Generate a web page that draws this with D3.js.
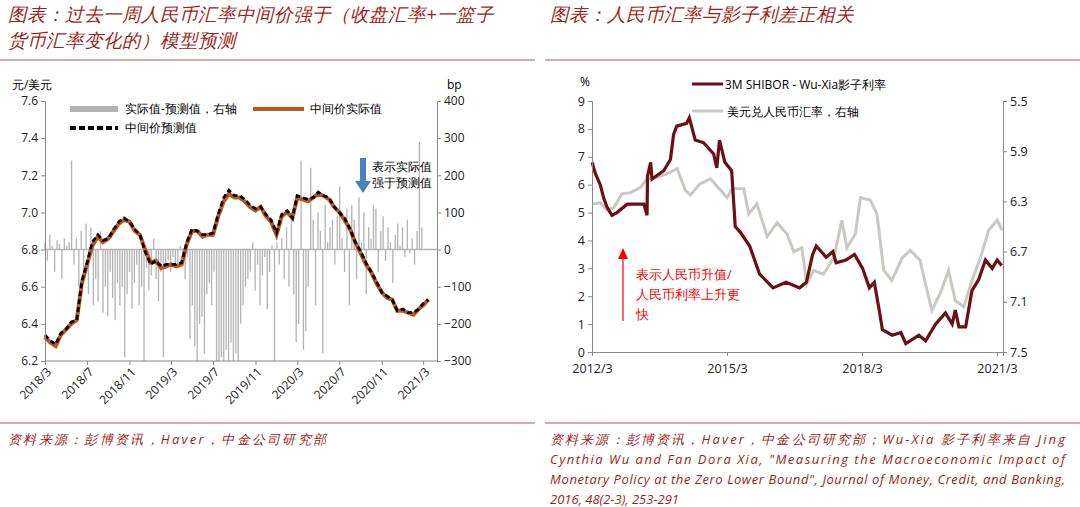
<!DOCTYPE html>
<html><head><meta charset="utf-8">
<script src="https://cdn.jsdelivr.net/npm/d3@7"></script>
<style>body{margin:0;background:#fff}svg{display:block}text{font-family:"Open Sans","Liberation Sans",sans-serif}</style>
</head><body><svg id="c" width="1080" height="507"></svg>
<script>
// ---- Left chart data ----
const leftTicks = ["2018/3","2018/7","2018/11","2019/3","2019/7","2019/11","2020/3","2020/7","2020/11","2021/3"];
const midStart = "2018-03-01"; // semi-monthly observations
const midActual = [6.33,6.30,6.28,6.34,6.37,6.40,6.42,6.62,6.72,6.82,6.87,6.84,6.86,6.90,6.94,6.96,6.95,6.90,6.88,6.80,6.73,6.74,6.70,6.71,6.72,6.71,6.72,6.83,6.90,6.90,6.87,6.88,6.88,6.98,7.06,7.10,7.08,7.08,7.06,7.03,7.01,7.03,6.98,6.95,6.88,6.98,7.00,6.97,7.08,7.07,7.06,7.08,7.10,7.09,7.07,7.03,7.00,6.96,6.91,6.84,6.78,6.72,6.68,6.62,6.57,6.54,6.53,6.47,6.47,6.46,6.45,6.48,6.50,6.53];
const midPred = [6.34,6.31,6.29,6.35,6.37,6.41,6.42,6.63,6.73,6.84,6.88,6.85,6.86,6.91,6.95,6.97,6.95,6.91,6.88,6.79,6.72,6.74,6.71,6.72,6.72,6.72,6.73,6.84,6.91,6.90,6.88,6.88,6.89,6.99,7.08,7.12,7.09,7.09,7.07,7.04,7.02,7.03,6.99,6.96,6.89,6.99,7.01,6.97,7.09,7.08,7.07,7.08,7.11,7.09,7.08,7.03,7.00,6.97,6.91,6.84,6.79,6.73,6.68,6.63,6.57,6.55,6.53,6.47,6.48,6.46,6.46,6.48,6.51,6.53];
const barStart = "2018-03-01"; // weekly observations, bp
const diffBp = [20,-30,40,10,-60,25,15,-80,30,10,20,240,-40,30,-100,50,-60,
70,-120,60,-150,-80,-140,50,-170,-100,-180,-60,-130,-190,-90,-150,-100,-290,
-120,-60,-160,-90,-40,-150,-100,-300,-50,-110,-70,30,-80,-140,-60,-290,-40,
-30,-60,-20,-50,-40,10,-30,-80,-20,-240,-150,-260,-300,-200,-180,-280,-120,
-90,-150,-60,-300,-300,-290,-300,-270,-300,-250,-300,-280,-300,-200,-150,-100,-80,
-60,20,-110,-40,-150,-70,-20,-160,-60,10,-300,20,-40,30,-80,60,-100,
100,-120,-250,-200,240,-270,-220,-100,220,80,-150,100,50,-280,120,20,60,
80,-40,90,170,30,-60,110,-150,120,80,-80,140,20,100,-120,60,30,
120,110,-60,50,90,-30,60,20,-90,40,70,10,60,-20,80,-10,30,
-40,50,290,60];
const leftY = [6.2,6.4,6.6,6.8,7.0,7.2,7.4,7.6];
const leftY2 = [-300,-200,-100,0,100,200,300,400];

// ---- Right chart data ----
const rightTicks = ["2012/3","2015/3","2018/3","2021/3"];
const spreadYear = [2012.17,2012.24,2012.35,2012.43,2012.5,2012.61,2012.72,2012.95,2013.32,2013.39,2013.4,2013.47,2013.5,2013.76,2013.91,2013.98,2014.05,2014.27,2014.33,2014.46,2014.65,2014.87,2014.94,2015.0,2015.12,2015.27,2015.35,2015.46,2015.67,2015.89,2016.19,2016.48,2016.78,2016.93,2017.07,2017.15,2017.37,2017.52,2017.59,2017.81,2018.0,2018.18,2018.33,2018.44,2018.55,2018.62,2018.84,2019.03,2019.14,2019.43,2019.58,2019.8,2020.02,2020.17,2020.24,2020.32,2020.47,2020.61,2020.76,2020.91,2021.06,2021.17,2021.27];
const spreadVal = [6.8,6.4,6.0,5.5,5.2,4.9,5.0,5.3,5.3,4.9,6.3,6.8,6.2,6.5,6.9,7.8,8.1,8.2,8.4,7.6,7.5,7.1,6.6,7.6,6.8,6.5,4.5,4.3,3.8,2.8,2.3,2.5,2.3,2.5,3.5,3.8,3.4,3.6,3.2,3.3,3.5,3.0,2.3,2.5,1.5,0.8,0.6,0.7,0.3,0.6,0.4,1.0,1.4,1.0,1.5,0.9,0.9,2.2,2.6,3.3,3.0,3.3,3.1];
const fxYear = [2012.17,2012.35,2012.5,2012.65,2012.83,2013.02,2013.24,2013.39,2013.61,2013.83,2014.06,2014.24,2014.35,2014.57,2014.8,2015.02,2015.17,2015.28,2015.54,2015.65,2015.83,2016.06,2016.28,2016.5,2016.65,2016.83,2016.94,2017.09,2017.31,2017.54,2017.72,2017.83,2018.02,2018.13,2018.35,2018.5,2018.65,2018.83,2019.06,2019.24,2019.46,2019.54,2019.72,2019.91,2020.09,2020.24,2020.43,2020.61,2020.8,2020.98,2021.17,2021.28];
const fxVal = [6.32,6.31,6.37,6.35,6.24,6.23,6.19,6.12,6.11,6.08,6.04,6.21,6.25,6.16,6.12,6.21,6.27,6.20,6.20,6.40,6.32,6.58,6.47,6.56,6.70,6.67,6.96,6.85,6.88,6.75,6.45,6.67,6.56,6.27,6.29,6.40,6.85,6.93,6.75,6.69,6.77,6.90,7.17,7.03,6.85,7.09,7.14,6.93,6.75,6.53,6.45,6.53];
const rightY = [0,1,2,3,4,5,6,7,8,9];
const rightY2 = [5.5,5.9,6.3,6.7,7.1,7.5];

const svg = d3.select("#c");
const red = "#a01e18";
const titleFont = '"Noto Sans CJK SC",sans-serif';
const tt = [[8,21,"图表：过去一周人民币汇率中间价强于（收盘汇率+一篮子"],[8,47,"货币汇率变化的）模型预测"],[550,21,"图表：人民币汇率与影子利差正相关"]];
tt.forEach(t=>svg.append("text").attr("x",t[0]).attr("y",t[1]).text(t[2]).attr("fill",red).attr("font-size",18.5).attr("font-weight",500).attr("font-style","italic").attr("font-family",titleFont));
[[0,535],[545,1080]].forEach(s=>{
  svg.append("line").attr("x1",s[0]).attr("x2",s[1]).attr("y1",60).attr("y2",60).attr("stroke","#b85450").attr("stroke-width",1.2);
  svg.append("line").attr("x1",s[0]).attr("x2",s[1]).attr("y1",423).attr("y2",423).attr("stroke","#b85450").attr("stroke-width",1.2);
});
const srcL = ["资料来源：彭博资讯，Haver，中金公司研究部"];
const srcR = ["资料来源：彭博资讯，Haver，中金公司研究部；Wu-Xia 影子利率来自 Jing","Cynthia Wu and Fan Dora Xia, \"Measuring the Macroeconomic Impact of","Monetary Policy at the Zero Lower Bound\", Journal of Money, Credit, and Banking,","2016, 48(2-3), 253-291"];
srcL.forEach((s,i)=>svg.append("text").attr("x",8).attr("y",444+i*20).text(s).attr("fill",red).attr("font-size",13).attr("font-style","italic").attr("font-family",titleFont).attr("textLength",318).attr("lengthAdjust","spacing"));
srcR.forEach((s,i)=>{const t=svg.append("text").attr("x",550).attr("y",444+i*20).text(s).attr("fill",red).attr("font-size",13).attr("font-style","italic").attr("font-family",titleFont);
  if(i<3) t.attr("textLength",515).attr("lengthAdjust","spacing");});

// ---- Left chart ----
const tp = d3.timeParse("%Y-%m-%d");
const lx = d3.scaleTime().domain([tp("2018-03-01"),tp("2021-04-10")]).range([45,437]);
const ly = d3.scaleLinear().domain([6.2,7.6]).range([361,101]);
const ly2 = d3.scaleLinear().domain([-300,400]).range([361,101]);
const midDates = midActual.map((_,i)=>d3.timeDay.offset(d3.timeMonth.offset(tp(midStart),Math.floor(i/2)),(i%2)*15));
const barDates = diffBp.map((_,i)=>d3.timeWeek.offset(tp(barStart),i));
svg.append("g").selectAll("line").data(diffBp).join("line")
  .attr("x1",(d,i)=>lx(barDates[i])).attr("x2",(d,i)=>lx(barDates[i]))
  .attr("y1",ly2(0)).attr("y2",d=>ly2(d)).attr("stroke","#b3b3b3").attr("stroke-width",1.3);
svg.append("line").attr("x1",45).attr("x2",437).attr("y1",ly2(0)).attr("y2",ly2(0)).attr("stroke","#b3b3b3").attr("stroke-width",1.5);
const lineL = d3.line().x((d,i)=>lx(midDates[i])).y(d=>ly(d));
svg.append("path").attr("d",lineL(midActual)).attr("fill","none").attr("stroke","#c0561b").attr("stroke-width",4);
svg.append("path").attr("d",lineL(midPred)).attr("fill","none").attr("stroke","#000").attr("stroke-width",2.8).attr("stroke-dasharray","5,3");
const axL = svg.append("g").attr("transform","translate(45,0)").call(d3.axisLeft(ly).tickValues(leftY).tickFormat(d3.format(".1f")).tickSize(4));
const axR = svg.append("g").attr("transform","translate(437,0)").call(d3.axisRight(ly2).tickValues(leftY2).tickSize(4));
const tickDatesL = leftTicks.map(s=>d3.timeParse("%Y/%m")(s));
const axB = svg.append("g").attr("transform","translate(0,361)").call(d3.axisBottom(lx).tickValues(tickDatesL).tickFormat(d3.timeFormat("%Y/%-m")).tickSize(4));
axB.selectAll("text").attr("transform","rotate(-45)").attr("text-anchor","end").attr("dx","-0.3em").attr("dy","0.5em");
[axL,axR,axB].forEach(a=>{a.select(".domain").attr("stroke","#888");a.selectAll("line").attr("stroke","#888");a.selectAll("text").attr("font-size",12).attr("fill","#222").attr("font-family","Open Sans");});
axB.select(".domain").attr("d","M45,0H437");
svg.append("text").attr("x",12).attr("y",89).text("元/美元").attr("font-size",12).attr("font-family",titleFont);
svg.append("text").attr("x",447).attr("y",89).text("bp").attr("font-size",12);
// legend
svg.append("rect").attr("x",70).attr("y",106).attr("width",48).attr("height",6).attr("fill","#b3b3b3");
svg.append("text").attr("x",125).attr("y",113).text("实际值-预测值，右轴").attr("font-size",12).attr("font-family",titleFont);
svg.append("line").attr("x1",253).attr("x2",304).attr("y1",109).attr("y2",109).attr("stroke","#c0561b").attr("stroke-width",4);
svg.append("text").attr("x",310).attr("y",113).text("中间价实际值").attr("font-size",12).attr("font-family",titleFont);
svg.append("line").attr("x1",70).attr("x2",118).attr("y1",128).attr("y2",128).attr("stroke","#000").attr("stroke-width",4).attr("stroke-dasharray","6,3");
svg.append("text").attr("x",125).attr("y",132).text("中间价预测值").attr("font-size",12).attr("font-family",titleFont);
// annotation
svg.append("line").attr("x1",363).attr("x2",363).attr("y1",158).attr("y2",182).attr("stroke","#4a7fc1").attr("stroke-width",6);
svg.append("path").attr("d","M355,181L371,181L363,193Z").attr("fill","#4a7fc1");
svg.append("text").attr("x",372).attr("y",171).text("表示实际值").attr("font-size",11.5).attr("font-family",titleFont);
svg.append("text").attr("x",372).attr("y",187).text("强于预测值").attr("font-size",11.5).attr("font-family",titleFont);

// ---- Right chart ----
const ry2012 = 2012+2/12;
const rx = d3.scaleLinear().domain([ry2012,2021.3]).range([592,1003]);
const ry = d3.scaleLinear().domain([0,9]).range([352,101]);
const ry2 = d3.scaleLinear().domain([5.5,7.5]).range([101,352]);
svg.append("path").attr("d",d3.line().x((d,i)=>rx(fxYear[i])).y(d=>ry2(d))(fxVal)).attr("fill","none").attr("stroke","#c9c9c4").attr("stroke-width",3);
svg.append("path").attr("d",d3.line().x((d,i)=>rx(spreadYear[i])).y(d=>ry(d))(spreadVal)).attr("fill","none").attr("stroke","#6b0f14").attr("stroke-width",3.2);
const rTickVals = rightTicks.map(s=>{const [y,m]=s.split("/").map(Number);return y+(m-1)/12;});
const aL = svg.append("g").attr("transform","translate(592,0)").call(d3.axisLeft(ry).tickValues(rightY).tickSize(4));
const aR = svg.append("g").attr("transform","translate(1003,0)").call(d3.axisRight(ry2).tickValues(rightY2).tickFormat(d3.format(".1f")).tickSize(4));
const aB = svg.append("g").attr("transform","translate(0,352)").call(d3.axisBottom(rx).tickValues(rTickVals).tickFormat((d,i)=>rightTicks[i]).tickSize(4));
[aL,aR,aB].forEach(a=>{a.select(".domain").attr("stroke","#888");a.selectAll("line").attr("stroke","#888");a.selectAll("text").attr("font-size",12.5).attr("fill","#222");});
aB.selectAll("text").attr("dy","1.1em");
svg.append("text").attr("x",580).attr("y",86).text("%").attr("font-size",12);
svg.append("line").attr("x1",692).attr("x2",723).attr("y1",84).attr("y2",84).attr("stroke","#6b0f14").attr("stroke-width",3);
svg.append("text").attr("x",725).attr("y",89).text("3M SHIBOR - Wu-Xia影子利率").attr("font-size",12).attr("font-family",titleFont);
svg.append("line").attr("x1",692).attr("x2",723).attr("y1",111).attr("y2",111).attr("stroke","#c9c9c4").attr("stroke-width",3);
svg.append("text").attr("x",727).attr("y",116).text("美元兑人民币汇率，右轴").attr("font-size",12).attr("font-family",titleFont);
svg.append("line").attr("x1",623).attr("x2",623).attr("y1",321).attr("y2",258).attr("stroke","#ff0000").attr("stroke-width",1.2);
svg.append("path").attr("d","M618,259L628,259L623,248Z").attr("fill","#ff0000");
["表示人民币升值/","人民币利率上升更","快"].forEach((s,i)=>svg.append("text").attr("x",636).attr("y",279+i*20).text(s).attr("fill","#ff0000").attr("font-size",13).attr("font-family",titleFont));
</script></body></html>
